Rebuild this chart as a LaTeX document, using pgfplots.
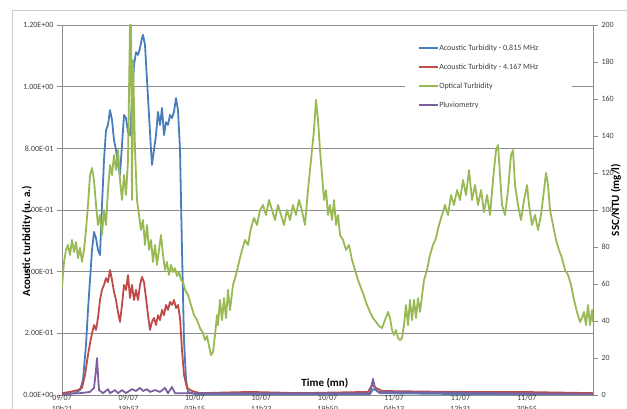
\documentclass[border=0pt]{standalone}
\usepackage{pgfplots}
\pgfplotsset{compat=1.18}
\usepackage{fontspec}
\setmainfont{Carlito}
\definecolor{cblue}{HTML}{4A7EBB}
\definecolor{cred}{HTML}{BE4B48}
\definecolor{cgreen}{HTML}{98B954}
\definecolor{cpurple}{HTML}{7D60A0}
\definecolor{axgray}{HTML}{8C8C8C}
\definecolor{txt}{HTML}{404040}
\begin{document}
\begin{tikzpicture}[x=1bp,y=1bp]
\useasboundingbox (0,0) rectangle (627,408);
\clip (0,0) rectangle (627,408);
\draw[gray!40, line width=0.8bp] (12,-30) rectangle (660,398);
\begin{axis}[
  at={(62bp,13bp)}, anchor=south west,
  width=531bp, height=370bp, scale only axis,
  xmin=0, xmax=531, ymin=0, ymax=1.2,
  axis line style={axgray, line width=0.75bp},
  ymajorgrids, grid style={axgray, line width=0.75bp},
  ytick={0,0.2,0.4,0.6,0.8,1.0,1.2},
  yticklabels={0.00E+00,2.00E-01,4.00E-01,6.00E-01,8.00E-01,1.00E+00,1.20E+00},
  ytick pos=left, tick align=outside, major tick length=5bp,
  ytick style={axgray, line width=0.75bp},
  xtick={0,66.4,132.8,199.2,265.6,332,398.4,464.8},
  xticklabels={{09/07\\10h21},{09/07\\19h57},{10/07\\03h15},{10/07\\11h33},{10/07\\19h50},{11/07\\04h13},{11/07\\12h31},{11/07\\20h55}},
  xtick style={draw=none},
  xticklabel style={align=center, inner sep=0.5bp, yshift=5.5bp, font=\fontsize{8bp}{11bp}\selectfont, text=txt},
  yticklabel style={font=\fontsize{8bp}{9.6bp}\selectfont, text=txt},
  /pgf/number format/assume math mode=true,
  xlabel={Time (mn)},
  xlabel style={at={(axis description cs:0.495,0.032)}, anchor=center, font=\bfseries\fontsize{11bp}{13bp}\selectfont, text=black},
  ylabel={Acoustic turbidity (u. a.)},
  ylabel style={at={(axis description cs:-0.066,0.416)}, anchor=center, font=\bfseries\fontsize{11bp}{13bp}\selectfont, text=black},
  legend cell align=left,
  legend style={draw=none, fill=none, at={(0.670,0.949)}, anchor=north west, inner sep=0pt,
    row sep=11bp, column sep=0pt, font=\fontsize{8bp}{9.6bp}\selectfont, text=txt,
    nodes={inner sep=0.5bp, text height=5.5bp, text depth=1.5bp}},
  legend image code/.code={\draw[#1, line width=1.8bp] (0bp,0bp) -- (19bp,0bp);},
  every axis plot/.append style={line width=1.8bp, line join=round},
]
\fill[white] (rel axis cs:0.646,0.751) rectangle (rel axis cs:0.960,0.978);
\addplot[cblue, mark=none] coordinates {(0,0.003)(13,0.006)(18,0.016)(21,0.049)(24,0.162)(26,0.276)(28,0.373)(30,0.470)(32,0.529)(34,0.509)(36,0.470)(38,0.454)(40,0.616)(42,0.762)(44,0.859)(46,0.876)(48,0.924)(50,0.892)(52,0.827)(54,0.795)(56,0.746)(58,0.714)(60,0.811)(62,0.908)(64,0.898)(66,0.853)(68,0.843)(70,0.957)(72,1.070)(74,1.112)(76,1.103)(78,1.125)(80,1.158)(81,1.168)(83,1.135)(85,1.022)(87,0.908)(89,0.795)(90,0.746)(92,0.795)(94,0.843)(96,0.918)(98,0.876)(100,0.931)(102,0.843)(104,0.885)(106,0.876)(108,0.908)(110,0.898)(112,0.918)(114,0.963)(116,0.924)(118,0.795)(120,0.470)(122,0.178)(124,0.049)(126,0.010)(133,0.003)(200,0.003)(308,0.003)(311,0.019)(314,0.016)(318,0.006)(400,0.003)(531,0.003)};
\addlegendentry{Acoustic Turbidity - 0.815 MHz}
\addplot[cred, mark=none] coordinates {(0,0.006)(8,0.010)(16,0.016)(20,0.023)(23,0.065)(26,0.130)(29,0.185)(32,0.227)(34,0.211)(36,0.250)(38,0.308)(40,0.341)(42,0.357)(44,0.379)(46,0.366)(48,0.405)(50,0.373)(52,0.334)(54,0.308)(56,0.269)(58,0.237)(60,0.292)(62,0.357)(64,0.341)(66,0.389)(68,0.315)(70,0.357)(72,0.308)(74,0.341)(76,0.308)(78,0.357)(80,0.383)(82,0.366)(84,0.315)(86,0.259)(88,0.211)(90,0.237)(92,0.250)(94,0.227)(96,0.259)(98,0.243)(100,0.276)(102,0.259)(104,0.292)(106,0.276)(108,0.302)(110,0.292)(112,0.308)(114,0.282)(116,0.292)(118,0.250)(120,0.146)(122,0.065)(125,0.023)(130,0.013)(138,0.006)(188,0.010)(238,0.006)(306,0.010)(310,0.032)(314,0.023)(320,0.013)(388,0.010)(458,0.010)(531,0.006)};
\addlegendentry{Acoustic Turbidity - 4.167 MHz}
\addlegendimage{cgreen, line width=1.8bp}
\addlegendentry{Optical Turbidity}
\addplot[cpurple, mark=none] coordinates {(0,0.003)(18,0.006)(28,0.010)(32,0.023)(34,0.081)(35,0.120)(36,0.065)(37,0.016)(41,0.006)(46,0.019)(48,0.006)(53,0.016)(56,0.006)(60,0.016)(64,0.006)(70,0.019)(74,0.013)(78,0.023)(81,0.013)(85,0.019)(88,0.010)(93,0.016)(98,0.010)(103,0.023)(106,0.006)(110,0.026)(113,0.006)(118,0.006)(308,0.006)(311,0.052)(313,0.023)(316,0.010)(531,0.003)};
\addlegendentry{Pluviometry}
\end{axis}
\begin{axis}[
  at={(62bp,13bp)}, anchor=south west,
  width=531bp, height=370bp, scale only axis,
  xmin=0, xmax=531, ymin=0, ymax=200,
  axis x line=none, axis y line*=right,
  axis line style={axgray, line width=0.75bp, -},
  ytick={0,20,...,200},
  tick align=outside, major tick length=5bp,
  ytick style={axgray, line width=0.75bp},
  yticklabel style={font=\fontsize{8bp}{9.6bp}\selectfont, text=txt},
  /pgf/number format/assume math mode=true,
  ylabel={SSC/NTU (mg/l)},
  ylabel style={at={(axis description cs:1.043,0.527)}, anchor=center, font=\bfseries\fontsize{11bp}{13bp}\selectfont, text=black},
  every axis plot/.append style={line width=1.8bp, line join=round},
]
\addplot[cgreen, mark=none] coordinates {(0,58.4)(2,71.9)(4,78.4)(6,81.1)(8,75.7)(10,83.8)(12,77.3)(14,82.7)(16,74.0)(18,79.5)(20,71.9)(22,78.4)(24,89.2)(26,102.7)(28,118.9)(30,122.7)(32,116.2)(34,102.7)(36,91.9)(38,97.3)(40,86.5)(42,100)(44,91.9)(46,110.8)(48,124.3)(50,118.9)(52,129.7)(54,121.6)(56,132.4)(58,116.2)(60,105.4)(62,118.9)(64,108.1)(66,127)(68,200)(69,200)(70,105.4)(71,181.1)(73,132.4)(75,105.4)(77,97.3)(79,89.2)(81,94.6)(83,81.1)(85,91.9)(87,78.4)(89,83.8)(91,71.9)(93,81.1)(95,70.3)(97,78.4)(99,86.5)(101,75.7)(103,67.6)(105,71.9)(107,64.9)(109,70.3)(111,66.5)(113,68.6)(115,64.3)(117,66.5)(119,62.2)(121,61.1)(123,56.8)(126,54.1)(129,48.6)(132,43.2)(135,40.5)(138,36.2)(141,33.5)(143,29.7)(145,31.9)(147,26.5)(149,21.6)(151,23.2)(153,32.4)(155,43.2)(156,37.8)(158,51.4)(160,40.5)(162,52.4)(164,41.6)(166,56.8)(168,45.9)(171,59.5)(174,64.9)(177,71.9)(180,78.4)(183,83.8)(186,81.1)(189,90.3)(192,95.7)(195,91.9)(198,100)(201,102.7)(204,97.3)(207,105.4)(210,100)(213,94.6)(216,102.7)(219,97.3)(222,91.9)(225,100)(228,94.6)(231,102.7)(234,97.3)(237,105.4)(240,99.5)(243,91.9)(246,110.8)(249,127)(252,143.2)(254,159.5)(256,148.6)(258,132.4)(260,118.9)(262,105.4)(264,110.8)(266,97.3)(268,102.7)(270,94.6)(272,105.4)(274,91.9)(276,97.3)(278,86.5)(281,83.8)(284,78.4)(287,81.1)(290,73.0)(293,67.6)(296,62.2)(299,57.8)(302,53.5)(305,48.6)(308,44.9)(311,41.6)(314,39.5)(317,37.3)(320,36.2)(323,40.5)(326,44.9)(328,41.6)(330,35.1)(332,32.4)(334,35.1)(336,30.8)(338,29.7)(340,30.8)(342,37.8)(344,48.6)(346,37.8)(348,51.4)(350,40.5)(352,51.4)(354,41.6)(356,52.4)(358,44.9)(360,53.5)(362,62.2)(365,67.6)(368,75.7)(371,81.1)(374,84.9)(377,91.9)(380,97.3)(383,102.7)(386,97.3)(389,108.1)(392,102.7)(395,110.8)(398,105.4)(401,116.2)(404,108.1)(407,121.6)(410,105.4)(413,113.5)(416,102.7)(419,110.8)(422,98.9)(425,108.1)(428,97.3)(431,116.2)(434,132.4)(436,135.1)(438,118.9)(440,102.7)(443,97.3)(446,110.8)(449,129.7)(451,132.4)(453,113.5)(456,102.7)(459,94.6)(462,105.4)(465,113.5)(467,102.7)(470,91.9)(473,97.3)(476,89.2)(479,97.3)(482,110.8)(484,120)(486,113.5)(488,100)(491,91.9)(494,83.8)(497,78.4)(500,74.0)(503,67.6)(506,64.9)(509,59.5)(512,51.4)(515,44.9)(518,39.5)(520,41.6)(522,44.9)(524,37.8)(526,48.6)(528,37.8)(530,45.9)(531,39.5)};
\end{axis}
\end{tikzpicture}
\end{document}
